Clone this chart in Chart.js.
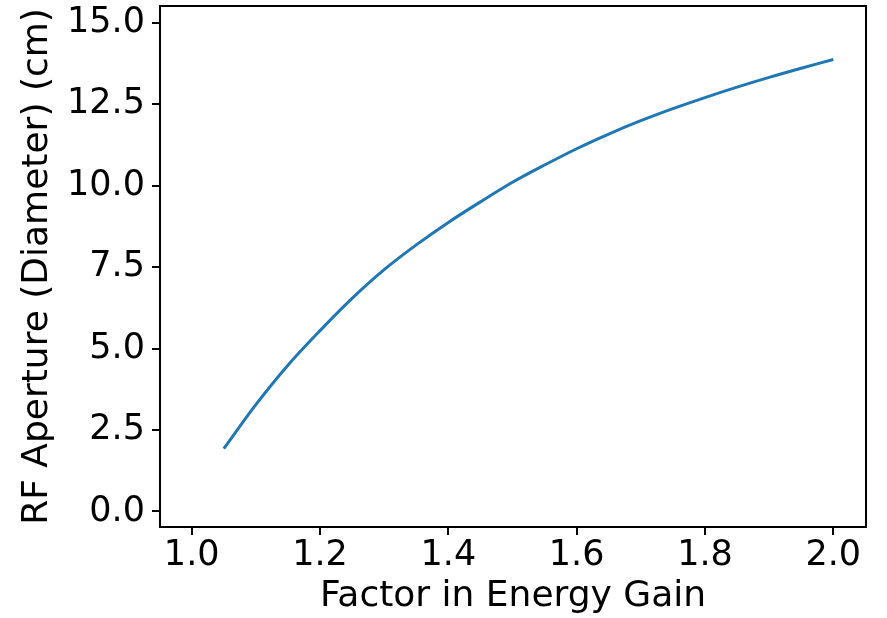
<!DOCTYPE html>
<html>
<head>
<meta charset="utf-8">
<script src="https://cdn.jsdelivr.net/npm/chart.js@4/dist/chart.umd.min.js"></script>
<style>
  html, body { margin: 0; padding: 0; background: #ffffff; }
  #wrap { width: 887px; height: 618px; }
</style>
</head>
<body>
<div id="wrap"><canvas id="c" width="887" height="618"></canvas></div>
<script>
// Energy gain factor and the RF aperture (diameter, cm) it requires
const gainFactor = [1.05, 1.10, 1.15, 1.20, 1.25, 1.30, 1.35, 1.40, 1.45, 1.50,
                    1.55, 1.60, 1.65, 1.70, 1.75, 1.80, 1.85, 1.90, 1.95, 2.00];
const apertureCm = [1.93, 3.28, 4.49, 5.55, 6.54, 7.42, 8.18, 8.87, 9.50, 10.10,
                    10.63, 11.13, 11.58, 11.99, 12.36, 12.70, 13.02, 13.32, 13.60, 13.87];

const xTicks = [1.0, 1.2, 1.4, 1.6, 1.8, 2.0];
const yTicks = [0.0, 2.5, 5.0, 7.5, 10.0, 12.5, 15.0];

const TICK_FONT = { family: "'DejaVu Sans', sans-serif", size: 35 };
const TITLE_FONT = { family: "'DejaVu Sans', sans-serif", size: 36 };

// Black frame around the plotting area (all four spines)
const frame = {
  id: 'frame',
  afterDatasetsDraw(chart) {
    const a = chart.chartArea, ctx = chart.ctx;
    ctx.save();
    ctx.strokeStyle = '#000';
    ctx.lineWidth = 2;
    ctx.strokeRect(a.left, a.top, a.right - a.left, a.bottom - a.top);
    ctx.restore();
  }
};

new Chart(document.getElementById('c'), {
  type: 'line',
  data: {
    datasets: [{
      data: gainFactor.map((x, i) => ({ x: x, y: apertureCm[i] })),
      borderColor: '#1f77b4',
      borderWidth: 3,
      pointRadius: 0,
      fill: false,
      cubicInterpolationMode: 'monotone'
    }]
  },
  options: {
    responsive: false,
    animation: false,
    layout: { padding: { left: 0, top: 6, right: 21, bottom: 0 } },
    plugins: { legend: { display: false }, tooltip: { enabled: false } },
    scales: {
      x: {
        type: 'linear',
        min: 0.9506,
        max: 2.051,
        afterBuildTicks(s) { s.ticks = xTicks.map(v => ({ value: v })); },
        afterFit(s) { s.height = 91; s.paddingLeft = 0; s.paddingRight = 0; },
        border: { display: false },
        grid: { drawOnChartArea: false, drawTicks: true, tickLength: 8, color: '#000', lineWidth: 2 },
        ticks: {
          color: '#000', font: TICK_FONT, padding: 0, maxRotation: 0,
          callback: v => Number(v).toFixed(1)
        },
        title: { display: true, text: 'Factor in Energy Gain', color: '#000', font: TITLE_FONT, padding: { top: 0, bottom: 0 } }
      },
      y: {
        type: 'linear',
        min: -0.476,
        max: 15.51,
        afterBuildTicks(s) { s.ticks = yTicks.map(v => ({ value: v })); },
        afterFit(s) { s.width = 160; s.paddingTop = 0; s.paddingBottom = 0; },
        border: { display: false },
        grid: { drawOnChartArea: false, drawTicks: true, tickLength: 8, color: '#000', lineWidth: 2 },
        ticks: {
          color: '#000', font: TICK_FONT, padding: 7,
          callback: v => Number(v).toFixed(1)
        },
        title: { display: true, text: 'RF Aperture (Diameter) (cm)', color: '#000', font: TITLE_FONT, padding: { top: 16, bottom: 0 } }
      }
    }
  },
  plugins: [frame]
});
</script>
</body>
</html>
